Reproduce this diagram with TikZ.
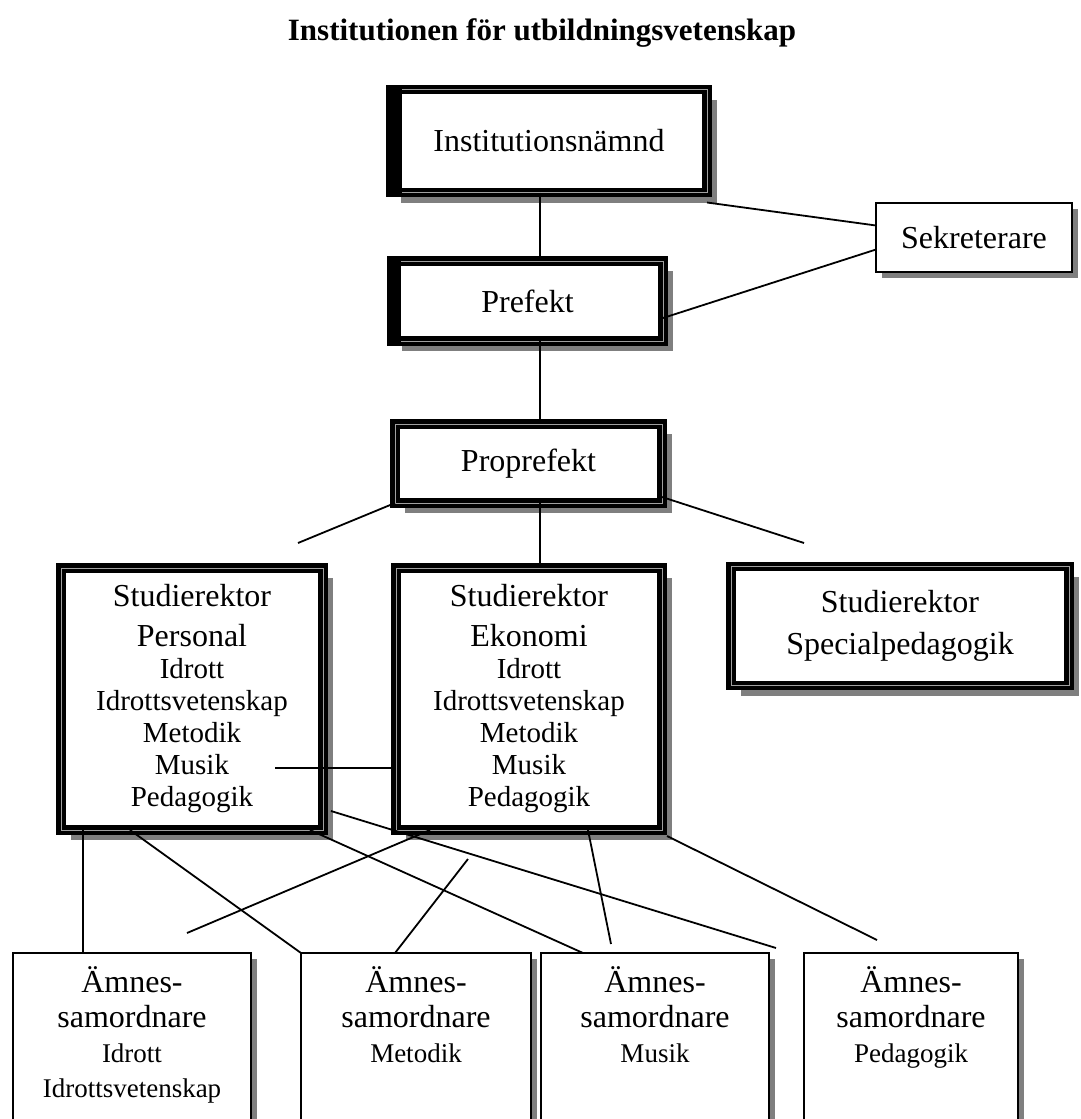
\documentclass[tikz,border=0pt]{standalone}
\usepackage{fontspec}
\setmainfont{Liberation Serif}
\usepackage{tikz}
\usetikzlibrary{calc,shadows}
\definecolor{ink}{HTML}{000000}
\definecolor{bevel}{HTML}{A0A0A0}
\definecolor{shade}{HTML}{7F7F7F}
\newcommand{\bigtxt}{\fontsize{32}{32}\selectfont}
\newcommand{\boxtxt}{\fontsize{32}{35}\selectfont}
\newcommand{\subtxt}{\fontsize{29}{32}\selectfont}
\newcommand{\smalltxt}{\fontsize{27}{35}\selectfont}
\tikzset{
  heavy/.style={draw=ink, line width=4.2pt, double=bevel, double distance=1pt, fill=white,
    inner sep=0pt, outer sep=0pt, align=center, font=\bigtxt,
    drop shadow={shadow xshift=10pt, shadow yshift=-10pt, fill=shade, opacity=1}},
  plain/.style={draw=ink, line width=1.6pt, fill=white, inner xsep=0pt, inner ysep=14pt,
    outer sep=0pt, align=center, font=\boxtxt,
    drop shadow={shadow xshift=6pt, shadow yshift=-6pt, fill=shade, opacity=1}},
  conn/.style={draw=ink, line width=1.8pt},
  head/.style={font=\fontsize{31}{36}\selectfont\bfseries},
}

\begin{document}
\begin{tikzpicture}[x=1pt,y=-1pt]
  \useasboundingbox[fill=white] (0,0) rectangle (1081,1119);

  \node[head] (title) at (542,33) {Institutionen för utbildningsvetenskap};

  \node[heavy, minimum width=316pt, minimum height=103pt] (inst) at (549,141) {Institutionsnämnd};
  \node[heavy, minimum width=271pt, minimum height=80pt] (pref) at (527.5,301) {Prefekt};
  \node[plain, inner ysep=0pt, minimum width=196pt, minimum height=69pt] (sekr) at (974,237.5) {Sekreterare};
  \node[heavy, minimum width=267pt, minimum height=79pt] (propref) at (528.5,463.5) {Proprefekt};
  % heavier left edge on the two top frames
  \fill[ink] ([xshift=-4.7pt,yshift=4.7pt]inst.north west) rectangle ([xshift=11pt,yshift=-4.7pt]inst.south west);
  \fill[ink] ([xshift=-4.7pt,yshift=4.7pt]pref.north west) rectangle ([xshift=9pt,yshift=-4.7pt]pref.south west);

  \node[heavy, minimum width=262pt, minimum height=262pt] (pers) at (192,699)
    {Studierektor\\[8pt]Personal\\\subtxt Idrott\\\subtxt Idrottsvetenskap\\\subtxt Metodik\\
     \subtxt Musik\\\subtxt Pedagogik};
  \node[heavy, minimum width=266pt, minimum height=262pt] (ekon) at (529,699)
    {Studierektor\\[8pt]Ekonomi\\\subtxt Idrott\\\subtxt Idrottsvetenskap\\\subtxt Metodik\\
     \subtxt Musik\\\subtxt Pedagogik};
  \node[heavy, minimum width=338pt, minimum height=119pt] (spec) at (900,626)
    {Studierektor\\[10pt]Specialpedagogik};

  % amnessamordnare, cut off by the page edge
  \node[plain, anchor=north, minimum width=238pt] (amn1) at (132,953)
    {Ämnes-\\samordnare\\\smalltxt Idrott\\\smalltxt Idrottsvetenskap\\\rule{0pt}{200pt}};
  \node[plain, anchor=north, minimum width=230pt] (amn2) at (416,953)
    {Ämnes-\\samordnare\\\smalltxt Metodik\\\rule{0pt}{230pt}};
  \node[plain, anchor=north, minimum width=228pt] (amn3) at (655,953)
    {Ämnes-\\samordnare\\\smalltxt Musik\\\rule{0pt}{230pt}};
  \node[plain, anchor=north, minimum width=214pt] (amn4) at (911,953)
    {Ämnes-\\samordnare\\\smalltxt Pedagogik\\\rule{0pt}{230pt}};

  \coordinate (pl) at (298,543);
  \coordinate (pr) at (804,543);
  \coordinate (hz) at (275,768);
  \coordinate (ml) at (187,933);
  \coordinate (mm) at (468,859);
  \coordinate (mr) at (611,944);
  \coordinate (mu) at (776,948);
  \coordinate (ms) at (877,940);

  \draw[conn] ([xshift=-9pt]inst.south) -- ([xshift=-9pt]inst.south |- pref.north);
  \draw[conn] ([yshift=-10pt]inst.south east) -- ([yshift=12pt]sekr.west);
  \draw[conn] ([yshift=-17pt]pref.east) -- ([yshift=-12pt]sekr.west);
  \draw[conn] ([xshift=12.5pt]pref.south) -- ([xshift=12.5pt]pref.south |- propref.north);

  \draw[conn] (propref.south west) -- (pl);
  \draw[conn] ([yshift=6pt]propref.south east) -- (pr);
  \draw[conn] ([xshift=11.5pt]propref.south) -- ([xshift=11.5pt]propref.south |- ekon.north);

  \draw[conn] (hz) -- (hz -| ekon.west);
  \draw[conn] ([xshift=22pt]pers.south west) -- ([xshift=22pt]pers.south west |- amn1.north);
  \draw[conn] ([xshift=69pt]pers.south west) -- (amn2.north west);
  \draw[conn] ([xshift=-13pt]pers.south east) -- ([xshift=42pt]amn3.north west);
  \draw[conn] ([xshift=8pt,yshift=-112pt]pers.east) -- (mu);
  \draw[conn] ([xshift=34pt]ekon.south west) -- (ml);
  \draw[conn] (mm) -- ([xshift=94pt]amn2.north west);
  \draw[conn] ([xshift=59pt]ekon.south) -- (mr);
  \draw[conn] ([xshift=5pt,yshift=-6pt]ekon.south east) -- (ms);
\end{tikzpicture}
\end{document}
